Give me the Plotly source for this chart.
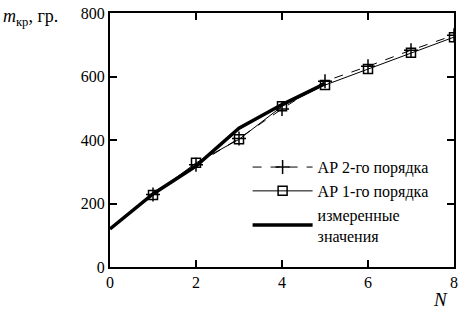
import plotly.graph_objects as go

N_meas = [0, 1, 2, 3, 4, 5]
m_meas = [120, 230, 318, 437, 512, 578]

N_ar = [1, 2, 3, 4, 5, 6, 7, 8]
m_ar2 = [228, 322, 405, 498, 585, 632, 683, 730]
m_ar1 = [227, 328, 402, 506, 573, 624, 675, 724]

names = ["АР 2-го порядка", "АР 1-го порядка", "измеренные<br>значения"]

font_family = "Liberation Serif"

fig = go.Figure()
fig.add_trace(go.Scatter(
    x=N_ar, y=m_ar2, name=names[0], mode="lines+markers",
    line=dict(color="black", width=1, dash="dash"),
    marker=dict(symbol="cross-thin", size=10, line=dict(color="black", width=1.5)),
))
fig.add_trace(go.Scatter(
    x=N_ar, y=m_ar1, name=names[1], mode="lines+markers",
    line=dict(color="black", width=1),
    marker=dict(symbol="square-open", size=9, color="black", line=dict(width=1.5)),
))
fig.add_trace(go.Scatter(
    x=N_meas, y=m_meas, name=names[2], mode="lines",
    line=dict(color="black", width=3.5),
))

fig.update_layout(
    width=463, height=311,
    margin=dict(l=110, r=9, t=5, b=44),
    paper_bgcolor="white", plot_bgcolor="white",
    font=dict(family=font_family, size=16, color="black"),
    showlegend=True,
    legend=dict(x=0.40, y=0.46, xanchor="left", yanchor="top",
                bgcolor="rgba(0,0,0,0)", font=dict(size=16, family=font_family),
                tracegroupgap=0, itemwidth=60),
    xaxis=dict(range=[0, 8], tickvals=[0, 2, 4, 6, 8], showgrid=False, zeroline=False,
               showline=True, linecolor="black", linewidth=2, mirror="allticks",
               ticks="inside", ticklen=7, tickwidth=2, tickcolor="black",
               tickfont=dict(family=font_family, size=16)),
    yaxis=dict(range=[0, 800], tickvals=[0, 200, 400, 600, 800], showgrid=False, zeroline=False,
               showline=True, linecolor="black", linewidth=2, mirror="allticks",
               ticks="inside", ticklen=7, tickwidth=2, tickcolor="black",
               ticklabeloverflow="allow",
               tickfont=dict(family=font_family, size=16)),
    annotations=[
        dict(text="<i>m</i><sub>кр</sub>, гр.", xref="paper", yref="paper",
             x=-0.317, y=1.0, xanchor="left", yanchor="middle", showarrow=False,
             font=dict(size=18, family=font_family), yshift=-4),
        dict(text="<i>N</i>", xref="paper", yref="paper", x=1.0, y=0,
             xanchor="center", yanchor="top", showarrow=False,
             font=dict(size=19, family=font_family), yshift=-20, xshift=-14),
    ],
)

fig.write_html("out.html", config={"displayModeBar": False},
               post_script="document.body.style.margin='0';document.body.style.padding='0';")
